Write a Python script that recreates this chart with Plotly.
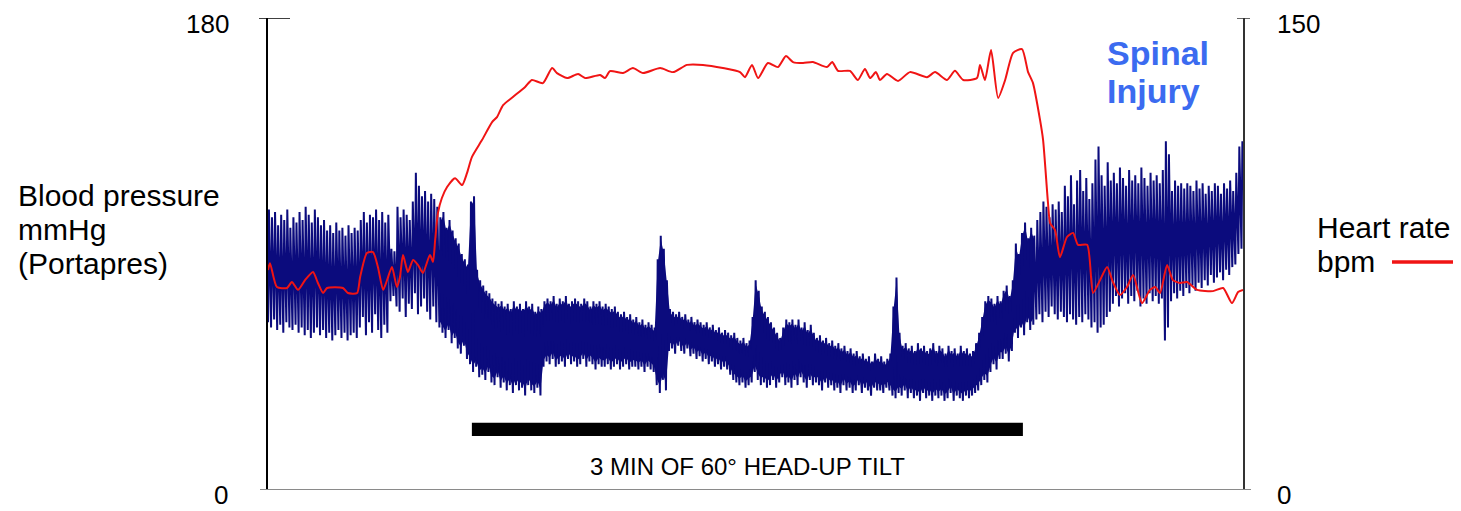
import numpy as np
import plotly.graph_objects as go

# ---- Blood pressure (Portapres), one systolic/diastolic pair per 1-s sample, mmHg ----
bp_sys = [
    107, 104, 106, 101, 105, 103, 107, 100, 104, 102,
    106, 103, 108, 105, 102, 107, 104, 101, 103, 99,
    101, 98, 102, 99, 100, 97, 101, 98, 100, 99,
    103, 106, 102, 105, 104, 107, 103, 106, 102, 105,
    92, 91, 108, 104, 107, 105, 103, 110, 121, 116,
    112, 114, 110, 113, 111, 108, 104, 106, 100, 103,
    99, 96, 94, 90, 88, 86, 110, 112, 84, 80,
    78, 76, 75, 73, 72, 71, 72, 70, 71, 69,
    72, 70, 71, 69, 72, 70, 71, 68, 70, 69,
    72, 73, 72, 74, 71, 73, 72, 74, 71, 72,
    73, 72, 71, 73, 72, 70, 72, 71, 72, 70,
    71, 70, 69, 70, 68, 67, 68, 66, 67, 65,
    66, 64, 65, 63, 64, 63, 62, 88, 97, 92,
    80, 69, 68, 67, 68, 66, 67, 65, 66, 64,
    65, 64, 63, 64, 62, 63, 61, 62, 60, 61,
    60, 59, 60, 58, 57, 58, 56, 57, 66, 80,
    76, 70, 68, 66, 64, 62, 60, 58, 62, 65,
    64, 65, 63, 65, 62, 64, 61, 63, 60, 58,
    59, 57, 58, 56, 57, 55, 56, 54, 55, 53,
    54, 52, 53, 51, 52, 50, 51, 49, 52, 50,
    51, 49, 50, 52, 70, 81, 60, 55, 56, 54,
    55, 53, 56, 54, 55, 53, 54, 56, 53, 55,
    54, 52, 55, 53, 54, 52, 55, 53, 54, 52,
    53, 56, 60, 66, 72, 74, 73, 71, 74, 72,
    76, 78, 74, 80, 94, 90, 98, 102, 96, 100,
    97, 103, 106, 110, 108, 104, 109, 107, 110, 106,
    116, 112, 120, 109, 118, 122, 114, 119, 111, 117,
    126, 131, 120, 116, 125, 118, 121, 117, 123, 119,
    116, 122, 118, 120, 117, 123, 119, 116, 121, 118,
    120, 117, 122, 133, 128, 114, 118, 116, 117, 115,
    117, 116, 114, 118, 115, 117, 113, 116, 114, 117,
    116, 113, 117, 115, 118, 114, 121, 131, 133,
]
bp_dia = [
    64, 62, 65, 61, 63, 60, 64, 62, 61, 63,
    60, 62, 59, 61, 58, 60, 62, 59, 61, 58,
    60, 57, 59, 61, 58, 60, 57, 59, 60, 58,
    62, 66, 59, 64, 60, 67, 61, 58, 63, 60,
    72, 74, 70, 68, 73, 66, 71, 69, 75, 67,
    70, 73, 68, 65, 70, 64, 62, 60, 58, 61,
    56, 58, 54, 52, 55, 50, 48, 45, 47, 43,
    44, 42, 45, 41, 40, 43, 39, 41, 38, 40,
    37, 40, 38, 39, 36, 40, 38, 37, 39, 36,
    47, 49, 48, 50, 47, 48, 49, 47, 50, 48,
    49, 47, 48, 50, 47, 49, 48, 46, 48, 47,
    47, 48, 46, 47, 48, 46, 47, 48, 46, 47,
    47, 46, 47, 45, 47, 46, 45, 40, 37, 42,
    38, 53, 54, 52, 55, 53, 52, 54, 51, 52,
    50, 51, 49, 50, 48, 49, 47, 48, 46, 47,
    46, 44, 42, 41, 40, 41, 39, 40, 41, 45,
    42, 40, 41, 39, 40, 42, 39, 41, 43, 40,
    41, 39, 42, 40, 43, 41, 39, 42, 40, 41,
    40, 38, 41, 39, 40, 38, 39, 37, 40, 38,
    39, 37, 38, 40, 37, 39, 38, 36, 39, 38,
    38, 37, 39, 38, 36, 35, 37, 36, 38, 35,
    37, 35, 36, 34, 37, 35, 36, 34, 36, 35,
    36, 34, 35, 37, 34, 36, 35, 34, 36, 35,
    36, 37, 38, 40, 42, 41, 45, 48, 46, 50,
    50, 52, 49, 53, 60, 58, 62, 59, 64, 61,
    63, 65, 67, 64, 68, 66, 70, 67, 65, 68,
    66, 64, 67, 65, 63, 66, 64, 67, 65, 62,
    64, 60, 62, 63, 66, 68, 71, 74, 70, 73,
    75, 71, 74, 72, 76, 70, 73, 71, 75, 72,
    74, 71, 73, 57, 62, 72, 75, 73, 76, 74,
    77, 75, 78, 76, 79, 77, 80, 78, 82, 79,
    81, 83, 80, 84, 82, 85, 86, 90, 92,
]
assert len(bp_sys) == len(bp_dia)

# ---- Heart rate, bpm ----
hr_t = [0, 0.65, 2.9, 6.2, 7.8, 9.8, 12.1, 14.7, 16.3, 18.0, 19.3, 24.5, 26.1, 29.1, 30.1,
        32.3, 34.3, 35.9, 37.6, 38.9, 40.5, 42.1, 43.1, 44.1, 45.7, 47.4, 49.0, 50.6, 52.9,
        53.9, 54.6, 55.5, 56.8, 58.5, 61.1, 63.4, 65.0, 66.6, 69.9, 73.2, 74.8, 76.8, 80.0,
        84.0, 86.2, 89.8, 92.8, 94.4, 97.7, 101.3, 103.6, 108.5, 110.1, 111.7, 116.0, 119.2,
        122.5, 128.1, 132.3, 136.9, 142.1, 148.6, 154.2, 155.8, 158.1, 160.1, 163.3, 166.6,
        169.2, 171.5, 174.8, 178.0, 182.6, 184.3, 186.2, 190.1, 192.7, 195.0, 196.7, 198.6,
        199.9, 202.2, 205.8, 209.7, 215.3, 217.9, 221.8, 224.4, 227.1, 231.6, 232.6, 234.2,
        236.2, 238.5, 240.8, 243.4, 246.3, 248.3, 249.9, 252.2, 253.2, 254.8, 255.5, 257.1,
        258.7, 261.0, 263.0, 264.6, 267.6, 269.5, 271.8, 274.1, 276.0, 278.3, 280.6, 282.6,
        285.5, 288.1, 289.8, 291.4, 293.7, 295.6, 297.9, 300.2, 303.5, 308.7, 312.0, 314.9,
        316.9, 318.5]
hr_bpm = [69.9, 72.1, 64.5, 64.2, 66.1, 63.6, 66.7, 69.3, 65.8, 62.6, 64.2, 64.2, 62.6, 62.6, 67.7,
          75.3, 75.6, 70.9, 63.6, 66.7, 70.9, 64.5, 67.7, 74.7, 69.3, 73.1, 71.5, 69.0, 74.7,
          72.5, 79.4, 88.0, 92.8, 96.3, 99.1, 96.9, 100.7, 105.8, 111.2, 116.9, 118.5, 122.3, 124.9,
          128.1, 130.3, 129.3, 134.1, 132.5, 130.9, 132.2, 130.9, 131.9, 130.9, 133.1, 132.5, 134.1,
          132.5, 134.1, 132.8, 135.1, 135.1, 134.1, 132.8, 131.2, 135.1, 130.9, 135.7, 134.4,
          137.9, 136.0, 135.7, 136.0, 134.4, 136.0, 133.2, 133.2, 130.3, 133.8, 130.9, 132.8,
          130.3, 132.2, 130.0, 132.8, 131.2, 132.8, 130.3, 133.2, 130.3, 130.9, 135.1, 130.3,
          139.8, 124.6, 130.3, 138.9, 140.1, 132.8, 129.3, 117.6, 111.2, 91.2, 84.8, 82.6,
          74.0, 80.4, 81.7, 77.9, 77.9, 62.6, 66.7, 70.9, 66.1, 62.0, 64.5, 68.3,
          59.4, 63.6, 64.5, 62.6, 71.5, 66.7, 65.8, 66.1, 63.6, 63.2, 64.2, 59.4,
          62.9, 63.6]

tilt_period = [66.6, 246.6]  # seconds: 3 min of 60° head-up tilt
t_total = 318.5

FONT = "Liberation Sans, Arial, Helvetica, sans-serif"
NAVY = "#0b0b7d"
RED = "#f01414"

bp_t = np.arange(len(bp_sys), dtype=float)
sys_a = np.array(bp_sys, dtype=float)
dia_a = np.array(bp_dia, dtype=float)

# Pulsatile BP trace: diastolic foot -> systolic peak for each sample
xs = np.empty(2 * len(bp_t))
ys = np.empty(2 * len(bp_t))
xs[0::2] = bp_t
xs[1::2] = bp_t + 0.3
ys[0::2] = dia_a
ys[1::2] = sys_a

# During tilt the beats (HR ~130) merge into a solid band: fill between the beat envelopes
band = (bp_t >= 56) & (bp_t <= 250)
band_x = np.concatenate([bp_t[band] + 0.3, (bp_t[band])[::-1]])
band_y = np.concatenate([sys_a[band] - 1.5, (dia_a[band] + 2.5)[::-1]])

fig = go.Figure()
fig.add_trace(go.Scatter(x=band_x, y=band_y, mode="lines", fill="toself", fillcolor=NAVY,
                         line=dict(width=0, color=NAVY), hoverinfo="skip", yaxis="y"))
fig.add_trace(go.Scatter(x=xs, y=ys, mode="lines", line=dict(color=NAVY, width=2.0),
                         hoverinfo="skip", yaxis="y"))
fig.add_trace(go.Scatter(x=hr_t, y=hr_bpm, mode="lines",
                         line=dict(color=RED, width=2, shape="spline", smoothing=0.6),
                         yaxis="y2"))

W_PLOT = 975.0
H_PLOT = 472.0
# page body offset (8 px) compensation: reference plot area at x 268..1243, y 18..490
OFF = 8
FIG_H = 511 - OFF
T_MARGIN = 18 - OFF
B_MARGIN = 511 - 490

shapes = [
    dict(type="line", xref="x domain", yref="y", x0=-9 / W_PLOT, x1=22 / W_PLOT, y0=180, y1=180,
         line=dict(color="black", width=1.5)),
    dict(type="line", xref="x domain", yref="y", x0=1 - 6 / W_PLOT, x1=1 + 7 / W_PLOT, y0=180, y1=180,
         line=dict(color="#333333", width=1.5)),
    dict(type="line", xref="x domain", yref="y", x0=-8 / W_PLOT, x1=1 + 8 / W_PLOT, y0=0, y1=0,
         line=dict(color="#8a8a8a", width=2)),
    dict(type="rect", xref="x", yref="y", x0=tilt_period[0], x1=tilt_period[1], y0=20.6, y1=25.6,
         fillcolor="black", line=dict(width=0)),
    dict(type="line", xref="paper", yref="paper", x0=(1392 - 268) / W_PLOT, x1=(1457 - 268) / W_PLOT,
         y0=(490 - 262) / H_PLOT, y1=(490 - 262) / H_PLOT, line=dict(color=RED, width=3.5)),
]


def px(xp):
    return (xp - 268) / W_PLOT


def py(yp):
    return (490 - yp) / H_PLOT


ann = []


def add(text, x, y, xanchor, size, color="black", bold=False, yanchor="middle"):
    ann.append(dict(text=("<b>%s</b>" % text) if bold else text, xref="paper", yref="paper",
                    x=x, y=y, xanchor=xanchor, yanchor=yanchor, showarrow=False, borderpad=0,
                    font=dict(family=FONT, size=size, color=color)))


# axis end labels kept fully inside the figure
top_edge = 1 + T_MARGIN / H_PLOT
bottom_edge = -B_MARGIN / H_PLOT
add("180", px(230), top_edge, "right", 26, yanchor="top")
add("0", px(229), bottom_edge, "right", 26, yanchor="bottom")
add("150", px(1276), top_edge, "left", 26, yanchor="top")
add("0", px(1276), bottom_edge, "left", 26, yanchor="bottom")
add("Blood pressure", px(17), py(195), "left", 30)
add("mmHg", px(17), py(229), "left", 30)
add("(Portapres)", px(17), py(264), "left", 30)
add("Heart rate", px(1316), py(227), "left", 30)
add("bpm", px(1316), py(262), "left", 30)
add("Spinal", px(1106), py(53), "left", 34, color="#3b6bf0", bold=True)
add("Injury", px(1106), py(91), "left", 34, color="#3b6bf0", bold=True)
ann.append(dict(text="3 MIN OF 60° HEAD-UP TILT", xref="x", yref="paper",
                x=(tilt_period[0] + tilt_period[1]) / 2, y=py(466), xanchor="center", yanchor="middle",
                showarrow=False, font=dict(family=FONT, size=24, color="black")))

fig.update_layout(
    width=1461 - OFF, height=FIG_H,
    margin=dict(l=268 - OFF, r=1461 - 1243, t=T_MARGIN, b=B_MARGIN, pad=0),
    paper_bgcolor="white", plot_bgcolor="white",
    showlegend=False,
    xaxis=dict(range=[0, t_total], visible=False, showgrid=False, zeroline=False),
    yaxis=dict(range=[0, 180], showline=True, linecolor="black", linewidth=1.5, showticklabels=False,
               ticks="", showgrid=False, zeroline=False, fixedrange=True),
    yaxis2=dict(range=[0, 150], overlaying="y", side="right", showline=True, linecolor="#333333",
                linewidth=1.5, showticklabels=False, ticks="", showgrid=False, zeroline=False),
    shapes=shapes,
    annotations=ann,
)

fig.write_html("out.html")
